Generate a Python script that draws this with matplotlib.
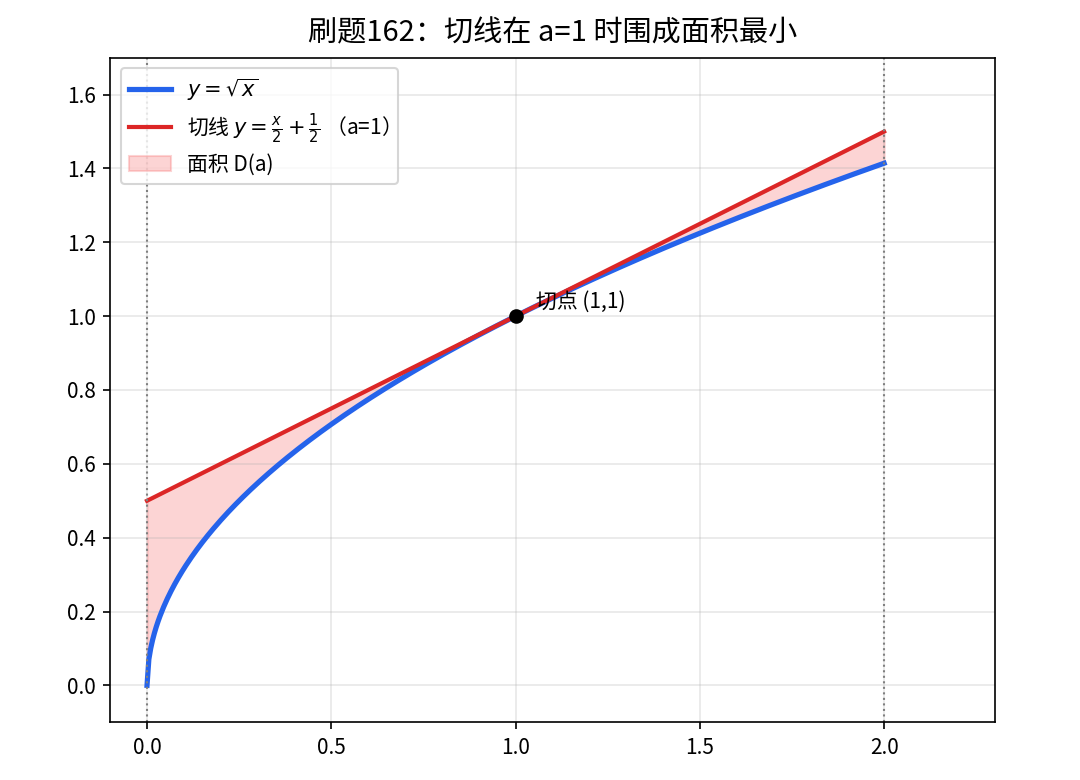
import numpy as np
import matplotlib
matplotlib.use("Agg")
import matplotlib.pyplot as plt

plt.rcParams['font.family'] = ['Noto Sans CJK SC', 'DejaVu Sans']
plt.rcParams['axes.unicode_minus'] = False

a = 1.0
x_lo, x_hi = 0.0, 2.0
xlim = (-0.1, 2.3)
ylim = (-0.1, 1.7)
title = "刷题162：切线在 a=1 时围成面积最小"

x = np.linspace(x_lo, x_hi, 400)
y_curve = np.sqrt(x)
y_tan = x / (2 * np.sqrt(a)) + np.sqrt(a) / 2

fig, ax = plt.subplots(figsize=(7.2, 5.2), dpi=150)
h_fill = ax.fill_between(x, y_curve, y_tan, color='#f87171', alpha=0.3, label='面积 D(a)')
h_curve, = ax.plot(x, y_curve, color='#2563eb', lw=2.5, label=r'$y=\sqrt{x}$')
h_tan, = ax.plot(x, y_tan, color='#dc2626', lw=2, label=r'切线 $y=\frac{x}{2}+\frac{1}{2}$ （a=1）')
ax.axvline(x_lo, color='gray', ls=':', lw=1)
ax.axvline(x_hi, color='gray', ls=':', lw=1)
ax.plot([a], [np.sqrt(a)], 'o', color='black', ms=6, zorder=5)
ax.text(a + 0.055, np.sqrt(a) + 0.01, '切点 (1,1)', fontsize=10, va='bottom')

ax.set_xlim(*xlim)
ax.set_ylim(*ylim)
ax.grid(True, alpha=0.3)
ax.set_title(title, fontsize=14, pad=8)
ax.legend(handles=[h_curve, h_tan, h_fill], loc='upper left', fontsize=10, labelspacing=0.4)
fig.subplots_adjust(left=0.102, right=0.921, top=0.926, bottom=0.074)
fig.savefig('out.png')
